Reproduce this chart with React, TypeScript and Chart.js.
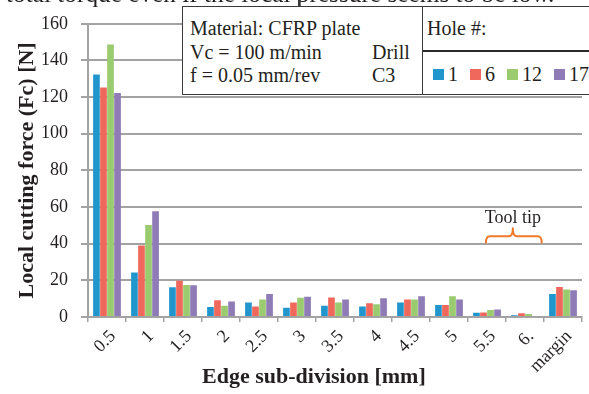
import React, { useEffect, useRef } from "react";
import { Chart, registerables } from "chart.js";

Chart.register(...registerables);

// ---- data ----
const categories = ["0.5", "1", "1.5", "2", "2.5", "3", "3.5", "4", "4.5", "5", "5.5", "6.", "margin"];
const hole1 = [132.3, 24.3, 16.2, 5.5, 7.9, 5.0, 6.1, 5.7, 7.9, 6.6, 2.3, 0.9, 12.5];
const hole6 = [125.2, 39.0, 19.8, 9.1, 5.7, 7.9, 10.7, 7.5, 9.6, 6.6, 2.5, 2.0, 16.4];
const hole12 = [148.7, 50.2, 17.5, 6.1, 9.5, 10.5, 7.9, 7.0, 9.6, 11.3, 3.8, 1.6, 15.0];
const hole17 = [122.2, 57.7, 17.3, 8.4, 12.5, 11.1, 9.6, 10.2, 11.3, 9.6, 4.1, 0.5, 14.6];
const seriesNames = ["1", "6", "12", "17"];
const seriesValues = [hole1, hole6, hole12, hole17];
const seriesColors = ["#2196cd", "#f0675c", "#9bcb6f", "#8f7bb6"];
const yMin = 0;
const yMax = 160;
const yStep = 20;
const infoLines = ["Material: CFRP plate", "Vc = 100 m/min", "f = 0.05 mm/rev"];
const infoRight = ["", "Drill", "C3"];
const legendTitle = "Hole #:";
const xTitle = "Edge sub-division [mm]";
const yTitle = "Local cutting force (Fc) [N]";
const topText = "total torque even if the local pressure seems to be low.";
// tool tip annotation, in data units (category index, force)
const toolTipLabel = "Tool tip";
const toolTipFrom = 9.97;
const toolTipTo = 11.44;
const toolTipMid = 10.68;
const toolTipEndValue = 40.3;
const toolTipBarValue = 44;
const toolTipNotchValue = 48.4;
const toolTipTextValue = 54;

const SERIF = "'Liberation Serif', 'Times New Roman', serif";
const INK = "#231f20";
const GRID = "#a3a3a3";

Chart.defaults.font.family = SERIF;
Chart.defaults.color = INK;

const toolTipPlugin = {
  id: "toolTipBracket",
  afterDatasetsDraw(chart: any) {
    const { ctx } = chart;
    const x = chart.scales.x;
    const y = chart.scales.y;
    const l = x.getPixelForValue(toolTipFrom);
    const r = x.getPixelForValue(toolTipTo);
    const m = x.getPixelForValue(toolTipMid);
    const yEnd = y.getPixelForValue(toolTipEndValue);
    const yBar = y.getPixelForValue(toolTipBarValue);
    const yNotch = y.getPixelForValue(toolTipNotchValue);
    const yText = y.getPixelForValue(toolTipTextValue);
    ctx.save();
    ctx.strokeStyle = "#f07a2c";
    ctx.lineWidth = 2;
    ctx.lineJoin = "round";
    ctx.beginPath();
    ctx.moveTo(l, yEnd);
    ctx.quadraticCurveTo(l, yBar, l + 4, yBar);
    ctx.lineTo(m - 4, yBar);
    ctx.quadraticCurveTo(m, yBar, m, yNotch);
    ctx.quadraticCurveTo(m, yBar, m + 4, yBar);
    ctx.lineTo(r - 4, yBar);
    ctx.quadraticCurveTo(r, yBar, r, yEnd);
    ctx.stroke();
    ctx.fillStyle = INK;
    ctx.font = `18px ${SERIF}`;
    ctx.textAlign = "center";
    ctx.textBaseline = "middle";
    ctx.fillText(toolTipLabel, m, yText);
    ctx.restore();
  },
};

export default function App() {
  const ref = useRef<HTMLCanvasElement | null>(null);

  useEffect(() => {
    if (!ref.current) return;
    const chart = new Chart(ref.current, {
      type: "bar",
      data: {
        labels: categories,
        datasets: seriesNames.map((n, i) => ({
          label: n,
          data: seriesValues[i],
          backgroundColor: seriesColors[i],
          borderWidth: 0,
          categoryPercentage: 0.74,
          barPercentage: 0.95,
        })),
      },
      options: {
        animation: false,
        responsive: false,
        devicePixelRatio: 1,
        layout: { padding: { top: 18, right: 7, left: 0, bottom: 0 } },
        plugins: { legend: { display: false }, tooltip: { enabled: false } },
        scales: {
          x: {
            grid: {
              display: true,
              drawOnChartArea: false,
              drawTicks: true,
              tickLength: 5,
              color: GRID,
              lineWidth: 1.5,
              offset: true,
            },
            border: { color: GRID, width: 2 },
            ticks: {
              autoSkip: false,
              maxRotation: 45,
              minRotation: 45,
              padding: 4,
              labelOffset: 6,
              color: INK,
              font: { family: SERIF, size: 18 },
            },
            afterFit(scale: any) {
              scale.height = 77;
            },
          },
          y: {
            min: yMin,
            max: yMax,
            ticks: {
              stepSize: yStep,
              padding: 13,
              color: INK,
              font: { family: SERIF, size: 18 },
            },
            grid: { color: GRID, lineWidth: 2, tickLength: 7 },
            border: { color: GRID, width: 2 },
            title: {
              display: true,
              text: yTitle,
              color: INK,
              font: { family: SERIF, size: 22, weight: "bold" },
              padding: { top: 14, bottom: 0 },
            },
            afterFit(scale: any) {
              scale.width = 88;
            },
          },
        },
      },
      plugins: [toolTipPlugin],
    });
    return () => chart.destroy();
  }, []);

  const textStyle: React.CSSProperties = {
    position: "absolute",
    fontFamily: SERIF,
    fontSize: 20,
    lineHeight: "23px",
    color: INK,
    whiteSpace: "nowrap",
  };

  return (
    <div style={{ position: "fixed", left: 0, top: 0, width: 589, height: 394, background: "#fff", overflow: "hidden" }}>
      <canvas ref={ref} width={589} height={394} style={{ display: "block", position: "absolute", left: 0, top: 0 }} />
      <div style={{ ...textStyle, left: 6, top: -21, fontSize: 25.3, lineHeight: "29px" }}>{topText}</div>
      <div style={{ position: "absolute", left: 298, top: 0, width: 1.5, height: 7, background: "#3a3a3a" }} />
      {/* info box */}
      <div
        style={{
          position: "absolute",
          left: 182,
          top: 6,
          width: 241,
          height: 89,
          border: "1.5px solid #3a3a3a",
          boxSizing: "border-box",
          background: "#fff",
        }}
      >
        {infoLines.map((t, i) => (
          <div key={"l" + i} style={{ ...textStyle, left: 7, top: 10 + i * 23.5 }}>{t}</div>
        ))}
        {infoRight.map((t, i) => (
          <div key={"r" + i} style={{ ...textStyle, left: 189, top: 10 + i * 23.5 }}>{t}</div>
        ))}
      </div>
      {/* legend box */}
      <div
        style={{
          position: "absolute",
          left: 422,
          top: 6,
          width: 180,
          height: 89,
          border: "1.5px solid #3a3a3a",
          boxSizing: "border-box",
          background: "#fff",
        }}
      >
        <div style={{ ...textStyle, left: 4, top: 10 }}>{legendTitle}</div>
        <div style={{ position: "absolute", left: 0, right: 0, top: 43, height: 0, borderTop: "2.5px solid #2a2a2a" }} />
        <div style={{ position: "absolute", left: 10, top: 56, display: "flex", alignItems: "center" }}>
          {seriesNames.map((n, i) => (
            <div key={n} style={{ display: "flex", alignItems: "center", marginRight: 12 }}>
              <div style={{ width: 11, height: 11, background: seriesColors[i], marginRight: 4 }} />
              <span style={{ fontFamily: SERIF, fontSize: 20, color: INK, lineHeight: "23px" }}>{n}</span>
            </div>
          ))}
        </div>
      </div>
      <div style={{ ...textStyle, left: 202, top: 363, fontSize: 22, lineHeight: "25px", fontWeight: "bold" }}>{xTitle}</div>
    </div>
  );
}
